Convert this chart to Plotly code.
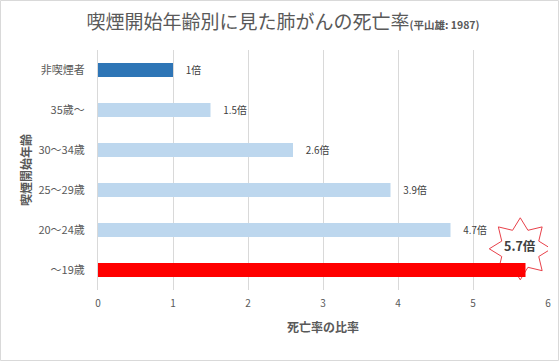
import plotly.graph_objects as go
import math

categories = ["非喫煙者", "35歳〜", "30〜34歳", "25〜29歳", "20〜24歳", "〜19歳"]
ratios = [1.0, 1.5, 2.6, 3.9, 4.7, 5.7]
labels = ["1倍", "1.5倍", "2.6倍", "3.9倍", "4.7倍", ""]
colors = ["#2E75B6", "#BDD7EE", "#BDD7EE", "#BDD7EE", "#BDD7EE", "#FF0000"]
x_ticks = [0, 1, 2, 3, 4, 5, 6]
callout_text = "5.7倍"

FONT = "Noto Sans CJK JP"
W, H = 559, 361
L, R, T, B = 98, 11, 50, 71
pw, ph = W - L - R, H - T - B

fig = go.Figure(go.Bar(
    x=ratios, y=categories, orientation="h",
    marker=dict(color=colors, line=dict(width=0)),
    text=["\u2002\u2002" + s if s else "" for s in labels], textposition="outside", cliponaxis=False,
    textfont=dict(family=FONT, size=10.5, color="#404040"),
    width=0.35,
))

# starburst callout
n = 8
ro, ri = 31, 20
pts = []
for i in range(2 * n):
    a = math.pi / 2 + i * math.pi / n
    r = ro if i % 2 == 0 else ri
    pts.append((r * math.cos(a), r * math.sin(a)))
path = "M " + " L ".join(f"{px:.1f},{py:.1f}" for px, py in pts) + " Z"

sx, sy = 5.63, 4.47
fig.add_shape(type="path", xref="x", yref="y", xsizemode="pixel", ysizemode="pixel",
              xanchor=sx, yanchor=sy, path=path,
              line=dict(color="#E8414A", width=1), fillcolor="white", layer="between")
fig.add_annotation(x=sx, y=sy - 0.08, xref="x", yref="y", text=f"<b>{callout_text}</b>",
                   showarrow=False, font=dict(family=FONT, size=12.5, color="#404040"))

# outer border
fig.add_shape(type="rect", xref="paper", yref="paper",
              x0=(0.5 - L) / pw, x1=(W - 0.5 - L) / pw,
              y0=(T + ph - (H - 0.5)) / ph, y1=(T + ph - 0.5) / ph,
              line=dict(color="#D9D9D9", width=1), layer="below")

fig.update_layout(
    width=W, height=H,
    margin=dict(l=L, r=R, t=T, b=B, autoexpand=False),
    paper_bgcolor="white", plot_bgcolor="white",
    font=dict(family=FONT, color="#595959"),
    showlegend=False,
    title=dict(text="喫煙開始年齢別に見た肺がんの死亡率<span style='font-size:10.5px'><b>(平山雄: 1987)</b></span>",
               x=283 / W, xref="container", xanchor="center", y=1 - 22 / H, yanchor="middle",
               font=dict(family=FONT, size=19, color="#595959")),
    xaxis=dict(range=[0, 6], tickvals=x_ticks, showgrid=True, gridcolor="#D9D9D9", gridwidth=1,
               zeroline=False, showline=False, ticks="", ticklabelstandoff=6,
               tickfont=dict(size=10, color="#595959"),
               title=dict(text="<b>死亡率の比率</b>", font=dict(size=12, color="#595959"), standoff=14),
               fixedrange=True, automargin=False),
    yaxis=dict(autorange="reversed", type="category", showgrid=False, showline=True,
               linecolor="#D9D9D9", linewidth=1, ticks="", ticklabelstandoff=10,
               tickfont=dict(size=11, color="#595959"), automargin=False, fixedrange=True,
               title=dict(text="<b>喫煙開始年齢</b>", font=dict(size=12, color="#595959"), standoff=4)),
)

fig.write_html("out.html", config={"displayModeBar": False},
               post_script="document.body.style.margin='0';document.body.style.overflow='hidden';")
